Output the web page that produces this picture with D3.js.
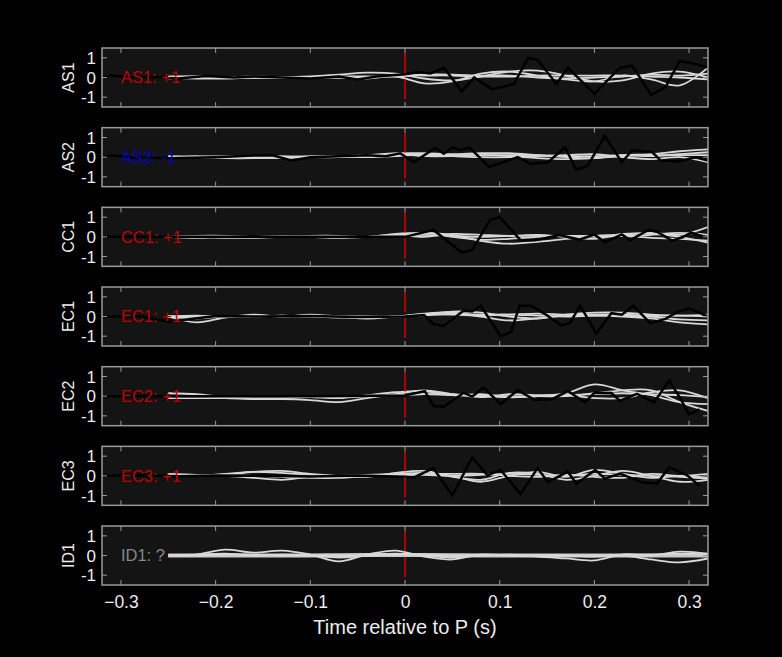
<!DOCTYPE html>
<html><head><meta charset="utf-8">
<script src="https://cdn.jsdelivr.net/npm/d3@7"></script>
<style>body{margin:0;background:#000;}svg{display:block;font-family:"Liberation Sans",Arial,sans-serif;}</style>
</head><body><svg id="c" width="782" height="657"></svg>
<script>
const stations = ["AS1","AS2","CC1","EC1","EC2","EC3","ID1"];
const polarity = ["+1","-1","+1","+1","+1","+1","?"];
const labelColors = ["#c00000","#0000c8","#c00000","#c00000","#c00000","#c00000","#888888"];
const xTicks = [-0.3,-0.2,-0.1,0,0.1,0.2,0.3];
const yTicks = [-1,0,1];

const blackT = [
 [-0.32,-0.31,-0.29,-0.27,-0.24,-0.21,-0.18,-0.16,-0.13,-0.1,-0.07,-0.05,-0.03,0,0.014,0.027,0.041,0.06,0.073,0.092,0.115,0.13,0.14,0.16,0.172,0.2,0.227,0.24,0.26,0.275,0.29,0.302,0.32],
 [-0.32,-0.31,-0.29,-0.25,-0.2,-0.16,-0.14,-0.12,-0.1,-0.07,-0.04,-0.02,-0.005,0.009,0.032,0.041,0.05,0.059,0.068,0.089,0.119,0.133,0.151,0.169,0.181,0.193,0.211,0.229,0.24,0.261,0.27,0.289,0.307,0.32],
 [-0.32,-0.2,-0.1,0,0.03,0.06,0.071,0.09,0.1,0.122,0.138,0.163,0.184,0.2,0.211,0.229,0.238,0.257,0.266,0.282,0.293,0.302,0.32],
 [-0.32,-0.28,-0.25,-0.2,-0.15,-0.1,-0.05,0,0.02,0.03,0.041,0.062,0.071,0.08,0.101,0.112,0.121,0.133,0.149,0.165,0.174,0.185,0.202,0.218,0.229,0.241,0.259,0.275,0.289,0.3,0.32],
 [-0.32,-0.2,-0.1,0,0.021,0.03,0.041,0.062,0.071,0.083,0.101,0.119,0.137,0.156,0.172,0.19,0.2,0.218,0.227,0.245,0.263,0.279,0.29,0.3,0.311],
 [-0.32,-0.28,-0.24,-0.2,-0.15,-0.1,-0.05,0,0.009,0.03,0.05,0.071,0.087,0.101,0.122,0.14,0.151,0.172,0.181,0.201,0.211,0.227,0.25,0.266,0.279,0.298,0.311],
 []
];
const blackV = [
 [0,0.1,0,0.02,-0.05,0.08,0,0.05,0,-0.05,0.05,-0.1,0.05,0.17,0.28,0.2,0.5,-0.7,0,-0.6,-0.33,1.0,0.9,-0.33,0.5,-0.83,0.5,0.6,-0.88,-0.5,0.83,0.75,0.5],
 [0,0.1,0,-0.05,0,0.08,0.1,-0.17,0,0.05,0.1,0.05,0.2,-0.26,0.47,0.17,0.5,0.35,0.5,-0.5,0,-0.34,-0.26,0.5,-0.64,-0.43,1.08,-0.26,0.35,0.26,-0.17,-0.22,0,-0.17],
 [0,0,0,0,0.35,-0.8,-0.67,0.88,1.0,-0.17,-0.17,0.09,-0.14,0.12,-0.28,0.12,-0.17,0.35,0.26,-0.19,-0.02,0.21,-0.05],
 [0,0,-0.26,0.02,0,0.03,-0.02,0,0.07,-0.38,-0.48,0.3,0.26,0.55,-1.0,-0.78,0.55,0.55,0.09,-0.45,-0.34,0.55,-0.86,0.17,0.09,0.55,-0.34,-0.12,0.26,0.41,0],
 [0,0,0,0.03,0.26,-0.5,-0.53,0.17,-0.02,0.44,-0.4,0.3,-0.19,-0.14,0.26,-0.32,0.17,0.16,-0.23,0.12,-0.32,0.8,-0.05,-0.93,-0.67],
 [0,0.03,-0.02,0.02,0,-0.03,0.02,-0.05,-0.09,0.39,-1.0,0.95,0.03,0.3,-0.93,0.39,-0.32,0.21,-0.4,0.3,-0.14,0.12,-0.32,-0.4,0.44,0.03,-0.5],
 []
];

const greyT = [-0.25,-0.22,-0.19,-0.16,-0.13,-0.10,-0.07,-0.04,-0.01,0.02,0.05,0.08,0.11,0.14,0.17,0.20,0.23,0.26,0.29,0.32];
const greyV = [
 [[0.05,0.05,0,0,0,0.05,0.15,0.25,0.2,-0.05,-0.15,0.05,0.3,0.35,0.1,-0.2,-0.15,0.2,0.3,0.0],
  [0,-0.05,-0.05,0,0,0,0,-0.05,0.05,-0.3,-0.2,0.2,0.3,0.1,-0.1,-0.2,0.1,-0.1,-0.4,0.5],
  [0,0.05,0,0.05,0,0,0,0,0.1,0.1,0.1,0.05,0.05,0.1,0.1,0.1,0.1,0.05,0,-0.1],
  [-0.05,0,0,0,-0.03,0,0.05,0.05,0.05,0.15,0.15,0.1,0.1,0.0,-0.05,0,0.05,0.15,0.1,0.2]],
 [[0,0.05,0,-0.05,0,0,0.05,0.1,0.2,0.2,0.15,0.2,0.2,0.1,0,-0.05,0.1,0.15,0.3,0.4],
  [-0.05,0,0.05,0,-0.05,0,0,0.05,0.1,0.1,0.05,0,0,0.05,0.1,0.15,0,-0.1,0,-0.25],
  [0,0,-0.05,-0.05,0,0.05,0.05,0,0.05,0.15,0.1,0.1,0.05,-0.05,-0.1,-0.05,0.05,0.1,0.1,0.1],
  [0.05,0,0,0,0.05,0,0,0.1,0.15,0.05,0.05,0.1,0.1,0.1,0.05,0.05,0.1,0.05,0.15,0.25]],
 [[0,0.05,0.05,0,0,0.05,0.05,0,0.15,0.2,0.1,-0.2,-0.35,-0.25,-0.1,0.05,0.1,0.2,0.1,0.5],
  [0,-0.05,0,0,0.05,0,-0.05,0,0.1,0.0,0.15,0.1,0.05,0.1,0.0,-0.1,0.15,0.15,0,-0.3],
  [0,0,-0.05,-0.05,0,0,0,0,0.05,0.2,0.0,-0.15,-0.1,0,0.05,0,0.05,0.1,0.2,0.1],
  [0,0,0,0,0,0,0,0,0.05,0.1,0.05,0,0.05,0.05,0.05,0.05,0.05,-0.05,-0.1,-0.2]],
 [[0,-0.3,-0.05,0.1,0,0.1,0,-0.1,0,0.1,0.25,0.2,0,-0.1,0.1,0.2,0.2,0.1,0.05,0.1],
  [0,0.05,0,0,0.05,0,-0.05,-0.05,0,0.15,0.2,0.0,-0.2,-0.1,0.05,0.05,0,-0.1,-0.3,-0.4],
  [0,-0.1,0,0,0.05,0,0,0,0,0.1,0.1,0.05,0.1,0.15,0.1,0.1,0.1,0.05,0.05,0],
  [0,0,0,0.05,0,0,0,0,0,0.05,0.15,0.1,0.1,0.05,0.0,0.05,0.05,0,-0.15,-0.2]],
 [[0.15,0.1,-0.05,-0.1,-0.1,-0.05,-0.1,0.05,0.2,0.25,0.05,0.1,-0.05,0,0.15,0.6,0.3,0.05,-0.3,-0.4],
  [-0.1,-0.1,-0.1,-0.15,-0.15,-0.2,-0.3,-0.1,0.1,0.3,0.1,-0.05,0.1,0.05,0.05,-0.1,-0.1,0.2,0.3,-0.1],
  [0,0,-0.05,0,0,-0.05,-0.05,0,0.05,0.1,0.1,0,-0.05,0,0,0.15,0.3,0.3,-0.3,-0.75],
  [0,0,0,0,0,0,-0.05,0,0.05,0.1,0.05,0.05,0,0,0.05,0.1,0.15,0.1,0.05,-0.05]],
 [[0.1,0.05,0,-0.1,-0.2,-0.05,0,0.05,0.1,0.15,0.0,-0.3,0,0.2,-0.05,0.3,0.1,-0.1,0,-0.1],
  [0.05,0,0.1,0.2,0.15,0.05,0,-0.05,0.15,0.25,-0.05,-0.2,0.15,0.1,-0.2,0.0,0.25,0.0,-0.3,-0.2],
  [0,0,0.05,0,-0.05,-0.1,-0.1,0,0.05,0.1,0.1,0.1,0.0,-0.05,0.05,-0.05,-0.1,0.1,0,0.1],
  [0,0,0.05,0.2,0.25,0.1,0,0,0.05,0.05,0.0,0.05,0.1,0.05,0,0.1,0.05,0,-0.05,-0.15]],
 [[0,0.05,0.3,0.15,0.25,0.05,-0.3,0.05,0.25,-0.05,-0.2,0.05,0.0,-0.05,-0.15,-0.25,0.05,0.0,0.2,0.1],
  [0,0.05,0.1,0,0.05,0,-0.1,0,0.1,0.0,-0.1,0.0,0.05,0,0.0,-0.05,0,-0.2,-0.35,-0.15],
  [0,0,0.05,0.05,0,0,0,0,0.05,0.05,0,0.05,0,0,0,0,0.05,0.05,0.1,0.05]]
];
const thickV = [0,0,0,0,0,0,0.02,0.03,0.03,0.03,0.02,0,0,0,0,0,0,0,0,0];

const svg = d3.select("#c");
const left = 102, right = 708, ph = 59, top0 = 48, step = 79.67;
const x = d3.scaleLinear().domain([-0.32,0.32]).range([left,right]);
const txt = "#ececec", frame = "#9a9a9a";

stations.forEach((s,i)=>{
  const t0 = top0 + i*step;
  const y = d3.scaleLinear().domain([-1.5,1.5]).range([t0+ph,t0]);
  const g = svg.append("g");
  const cid = "clip"+i;
  svg.append("clipPath").attr("id",cid).append("rect").attr("x",left).attr("y",t0).attr("width",right-left).attr("height",ph);
  g.append("rect").attr("x",left).attr("y",t0).attr("width",right-left).attr("height",ph).attr("fill","#141414");
  const pg = g.append("g").attr("clip-path",`url(#${cid})`);
  const gl = d3.line().x((d,k)=>x(greyT[k])).y(d=>y(d)).curve(d3.curveCatmullRom);
  if(i===6) pg.append("path").attr("d",gl(thickV)).attr("fill","none").attr("stroke","#c8c8c8").attr("stroke-width",4);
  greyV[i].forEach(v=>pg.append("path").attr("d",gl(v)).attr("fill","none").attr("stroke","#d8d8d8").attr("stroke-width",1.8));
  if(blackT[i].length){
    const bl = d3.line().x((d,k)=>x(blackT[i][k])).y(d=>y(d));
    pg.append("path").attr("d",bl(blackV[i])).attr("fill","none").attr("stroke","#000").attr("stroke-width",2.5);
  }
  g.append("line").attr("x1",x(0)).attr("x2",x(0)).attr("y1",y(1.25)).attr("y2",y(-1.25))
    .attr("stroke","#d00000").attr("stroke-width",1.6).attr("stroke-dasharray","20,6");
  g.append("text").attr("x",x(-0.3)).attr("y",y(0)).attr("dy","0.36em").attr("fill",labelColors[i])
    .attr("font-size",16.5).text(s+": "+polarity[i]);
  const ax = g.append("g");
  xTicks.forEach(t=>{
    ax.append("line").attr("x1",x(t)).attr("x2",x(t)).attr("y1",t0).attr("y2",t0+5).attr("stroke",frame);
    ax.append("line").attr("x1",x(t)).attr("x2",x(t)).attr("y1",t0+ph).attr("y2",t0+ph-5).attr("stroke",frame);
  });
  yTicks.forEach(t=>{
    ax.append("line").attr("x1",left).attr("x2",left+5).attr("y1",y(t)).attr("y2",y(t)).attr("stroke",frame);
    ax.append("line").attr("x1",right).attr("x2",right-5).attr("y1",y(t)).attr("y2",y(t)).attr("stroke",frame);
    ax.append("text").attr("x",left-6).attr("y",y(t)).attr("dy","0.36em").attr("text-anchor","end")
      .attr("fill",txt).attr("font-size",17).text(t);
  });
  g.append("rect").attr("x",left).attr("y",t0).attr("width",right-left).attr("height",ph)
    .attr("fill","none").attr("stroke",frame).attr("stroke-width",1.5);
  g.append("text").attr("transform",`translate(74,${y(0)}) rotate(-90)`).attr("text-anchor","middle")
    .attr("fill",txt).attr("font-size",16).text(s);
});
const lastBottom = top0 + 6*step + ph;
const xa = svg.append("g").attr("transform",`translate(0,${lastBottom})`)
  .call(d3.axisBottom(x).tickValues(xTicks).tickFormat(d=>d===0?"0":d3.format("")(d)).tickSize(0).tickPadding(11));
xa.select(".domain").remove();
xa.selectAll("text").attr("fill",txt).attr("font-size",17.5).attr("font-family","Liberation Sans, Arial, sans-serif");
svg.append("text").attr("x",x(0)).attr("y",634).attr("text-anchor","middle").attr("fill",txt).attr("font-size",20).text("Time relative to P (s)");
</script></body></html>
